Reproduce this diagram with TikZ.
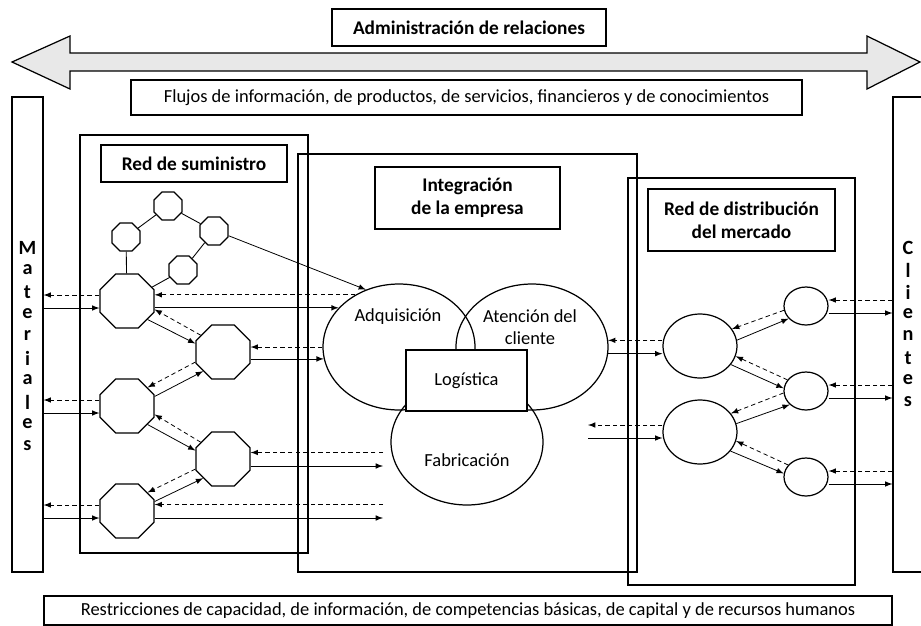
\documentclass[tikz,border=0pt]{standalone}
\usepackage{fontspec}
\setmainfont{Carlito}
\usetikzlibrary{shapes.geometric,fit,arrows}

\begin{document}
\begin{tikzpicture}[x=0.02cm,y=-0.02cm,line width=0.7pt,
	font=\fontsize{10.5}{12.5}\selectfont,
	caja/.style={draw,rectangle,inner sep=0pt},
	titulo/.style={caja,align=center,font=\fontsize{11}{13}\selectfont\bfseries},
	octo/.style={draw,regular polygon,regular polygon sides=8,minimum size=1.17cm,inner sep=0pt},
	octochico/.style={octo,minimum size=0.61cm},
	nodo/.style={draw,ellipse,inner sep=0pt},
	flujo/.style={-latex,line width=0.45pt},
	info/.style={-latex,line width=0.45pt,dash pattern=on 2.5pt off 1.8pt}]
\useasboundingbox (0,0) rectangle (921,626);
%%% Administracion de relaciones, Pfeil
	\draw[fill=gray!18] (12,62) -- (70,36) -- (70,53) -- (867,53) -- (867,36) -- (920,62)
		-- (867,89) -- (867,71) -- (70,71) -- (70,89) -- cycle ;
	\node[titulo,minimum width=5.48cm,minimum height=0.74cm] (adm) at (469,27.5) {Administración de relaciones} ;
	\node[caja,minimum width=13.42cm,minimum height=0.7cm] (flujos) at (466.5,97.5) {Flujos de información, de productos, de servicios, financieros y de conocimientos} ;
	\node[caja,minimum width=16.96cm,minimum height=0.58cm] (restr) at (468,610.5) {Restricciones de capacidad, de información, de competencias básicas, de capital y de recursos humanos} ;
%%% Materiales und Clientes
	\node[caja,fit={(12,97) (43,572)}] (mat) {} ;
	\node[caja,fit={(893,97) (924,572)}] (cli) {} ;
	\foreach \l [count=\i] in {M,a,t,e,r,i,a,l,e,s}{
		\node[font=\fontsize{11.5}{13}\selectfont\bfseries] at (27.5,226+22*\i) {\l} ;
	}
	\foreach \l [count=\i] in {C,l,i,e,n,t,e,s}{
		\node[font=\fontsize{11.5}{13}\selectfont\bfseries] at (908,226+22*\i) {\l} ;
	}
%%% Rahmen der drei Bereiche
	\node[caja,fit={(80,135) (308,553)}] (redsum) {} ;
	\node[caja,fit={(298,154) (637,572)}] (integ) {} ;
	\node[caja,fit={(628,178) (855,585)}] (reddis) {} ;
	\node[titulo,minimum width=3.72cm,minimum height=0.74cm] (redsumt) at (194,163.5) {Red de suministro} ;
	\node[titulo,minimum width=3.7cm,minimum height=1.24cm] (integt) at (467.5,198) {Integración\\de la empresa} ;
	\node[titulo,minimum width=3.74cm,minimum height=1.24cm] (reddist) at (741.5,220) {Red de distribución\\del mercado} ;
%%% Empresa
	\node[nodo,minimum width=3.04cm,minimum height=2.52cm] (adq) at (399,347) {} ;
	\node[nodo,minimum width=3.04cm,minimum height=2.52cm] (aten) at (532,347) {} ;
	\node[nodo,minimum width=3.04cm,minimum height=2.52cm] (fab) at (467,442) {} ;
	\node[caja,fill=white,minimum width=2.42cm,minimum height=1.22cm] (log) at (466.5,380.5) {Logística} ;
	\node at (398,317) {Adquisición} ;
	\node[align=center] at (530,327) {Atención del\\cliente} ;
	\node at (467,460) {Fabricación} ;
%%% Red de suministro
	\foreach \n/\x/\y in {q1/126/237,q2/168/206,q3/214/231,q4/183/270}{
		\node[octochico] (\n) at (\x,\y) {} ;
	}
	\foreach \n/\x/\y in {p1/127/301,p2/223/352,p3/127/406,p4/223/459,p5/127/511}{
		\node[octo] (\n) at (\x,\y) {} ;
	}
	\draw[line width=0.5pt] (q1) -- (q2) -- (q3) -- (q4) -- (p1) ;
	\draw[line width=0.5pt] (q1) -- (p1) ;
	\draw[flujo] (q3.-18) -- (adq.120) ;
	\draw[flujo] (p1.-42) -- (p2.163) ; \draw[info] (p2.143) -- (p1.-17) ;
	\draw[flujo] (p3.19) -- (p2.-136) ; \draw[info] (p2.200) -- (p3.42) ;
	\draw[flujo] (p3.-42) -- (p4.163) ; \draw[info] (p4.143) -- (p3.-17) ;
	\draw[flujo] (p5.19) -- (p4.-136) ; \draw[info] (p4.200) -- (p5.42) ;
	\foreach \p in {p1,p3,p5}{
		\draw[info] ([yshift=1.2mm]\p.west) -- ([yshift=1.2mm]\p.west -| mat.east) ;
		\draw[flujo] ([yshift=-1.4mm]\p.west -| mat.east) -- ([yshift=-1.4mm]\p.west) ;
	}
	\draw[info] (adq.130) -- (adq.130 -| p1.east) ;
	\draw[flujo] (adq.147 -| p1.east) -- (adq.147) ;
	\draw[info] (adq.180) -- (adq.180 -| p2.east) ;
	\draw[flujo] (adq.189 -| p2.east) -- (adq.189) ;
	\coordinate (e4) at (383,459) ;
	\coordinate (e5) at (383,511) ;
	\foreach \p/\e in {p4/e4,p5/e5}{
		\draw[info] ([yshift=1.3mm]\e) -- ([yshift=1.3mm]\p.east) ;
		\draw[flujo] ([yshift=-1.4mm]\p.east) -- ([yshift=-1.4mm]\e) ;
	}
%%% Red de distribucion
	\node[nodo,minimum width=1.48cm,minimum height=1.28cm] (d1) at (700,346) {} ;
	\node[nodo,minimum width=1.48cm,minimum height=1.28cm] (d2) at (700,432) {} ;
	\foreach \n/\y in {k1/306,k2/391,k3/477}{
		\node[nodo,minimum width=0.88cm,minimum height=0.76cm] (\n) at (806,\y) {} ;
	}
	\draw[info] (aten.5 -| d1.west) -- (aten.5) ;
	\draw[flujo] (aten.-5) -- (aten.-5 -| d1.west) ;
	\coordinate (e2) at (588,432) ;
	\draw[info] ([yshift=1.4mm]d2.west) -- ([yshift=1.4mm]e2) ;
	\draw[flujo] ([yshift=-1.2mm]e2) -- ([yshift=-1.2mm]d2.west) ;
	\draw[flujo] (d1.9) -- (k1.216) ; \draw[info] (k1.191) -- (d1.28) ;
	\draw[flujo] (d1.-31) -- (k2.173) ; \draw[info] (k2.149) -- (d1.-16) ;
	\draw[flujo] (d2.13) -- (k2.220) ; \draw[info] (k2.185) -- (d2.31) ;
	\draw[flujo] (d2.-32) -- (k3.171) ; \draw[info] (k3.146) -- (d2.-14) ;
	\foreach \k in {k1,k2,k3}{
		\draw[info] ([yshift=1.2mm]\k.east -| cli.west) -- ([yshift=1.2mm]\k.east) ;
		\draw[flujo] ([yshift=-1.4mm]\k.east) -- ([yshift=-1.4mm]\k.east -| cli.west) ;
	}
\end{tikzpicture}
\end{document}
